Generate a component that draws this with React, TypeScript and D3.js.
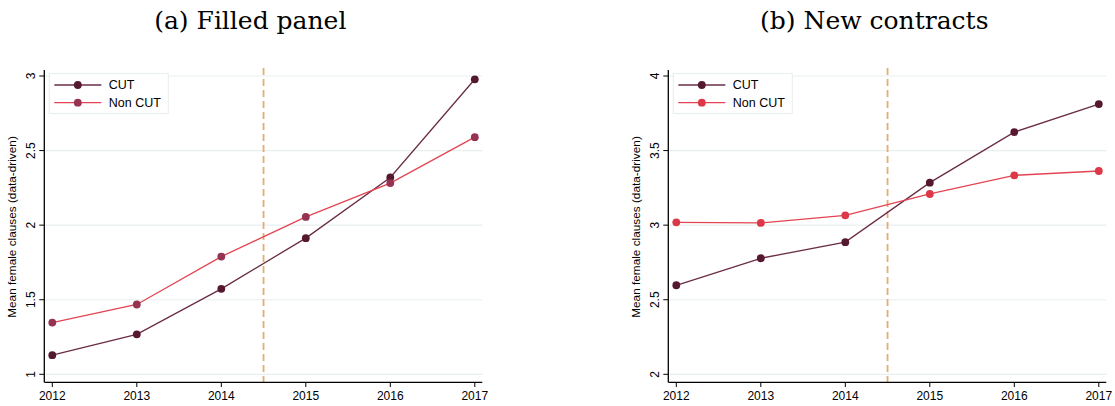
import React from "react";
import * as d3 from "d3";

const years = [2012, 2013, 2014, 2015, 2016, 2017];

const filledCut = [1.128, 1.268, 1.573, 1.913, 2.32, 2.978];
const filledNonCut = [1.347, 1.468, 1.789, 2.055, 2.282, 2.59];

const newCut = [2.597, 2.778, 2.886, 3.285, 3.624, 3.812];
const newNonCut = [3.019, 3.015, 3.066, 3.209, 3.334, 3.363];

const filledTicks = [1, 1.5, 2, 2.5, 3];
const newTicks = [2, 2.5, 3, 3.5, 4];

const seriesNames = ["CUT", "Non CUT"];
const cutoffYear = 2014.5;

interface PanelProps {
  title: string;
  left: number;
  cut: number[];
  nonCut: number[];
  ticks: number[];
  nonCutMarker: string;
}

const sans = "'Liberation Sans', Arimo, Arial, sans-serif";

function Panel({ title, left, cut, nonCut, ticks, nonCutMarker }: PanelProps) {
  const axisX = left;
  const axisRight = left + 438;
  const x = d3.scaleLinear().domain([2012, 2017]).range([left + 8, left + 430.5]);
  const y = d3
    .scaleLinear()
    .domain([ticks[0], ticks[ticks.length - 1]])
    .range([374.3, 76]);
  const line = d3
    .line<number>()
    .x((_, i) => x(years[i]))
    .y((v) => y(v));

  const cutLine = "#6a2c46";
  const cutMarker = "#55182f";
  const nonCutLine = "#e34452";

  const series = [
    { vals: cut, stroke: cutLine, fill: cutMarker },
    { vals: nonCut, stroke: nonCutLine, fill: nonCutMarker },
  ];

  const legX = left + 5;
  return (
    <g>
      <text
        x={left + 206}
        y={29}
        textAnchor="middle"
        fontFamily="'DejaVu Serif', 'Liberation Serif', serif"
        fontSize={25}
        fill="#000"
      >
        {title}
      </text>
      {ticks.map((t) => (
        <line key={"g" + t} x1={axisX} x2={axisRight} y1={y(t)} y2={y(t)} stroke="#e8efef" strokeWidth={1.2} />
      ))}
      <line
        x1={x(cutoffYear)}
        x2={x(cutoffYear)}
        y1={68}
        y2={382}
        stroke="#e2ad76"
        strokeWidth={1.8}
        strokeDasharray="7,4"
      />
      {series.map((s, k) => (
        <g key={"s" + k}>
          <path d={line(s.vals) || ""} fill="none" stroke={s.stroke} strokeWidth={1.3} />
          {s.vals.map((v, i) => (
            <circle key={i} cx={x(years[i])} cy={y(v)} r={3.9} fill={s.fill} />
          ))}
        </g>
      ))}
      {/* axes */}
      <line x1={axisX} x2={axisX} y1={70} y2={382.3} stroke="#000" strokeWidth={1.3} />
      <line x1={axisX} x2={axisRight} y1={382.3} y2={382.3} stroke="#000" strokeWidth={1.3} />
      {ticks.map((t) => (
        <g key={"t" + t}>
          <line x1={axisX - 5} x2={axisX} y1={y(t)} y2={y(t)} stroke="#000" strokeWidth={1} />
          <text
            transform={`translate(${axisX - 9},${y(t)}) rotate(-90)`}
            textAnchor="middle"
            fontFamily={sans}
            fontSize={12}
            fill="#000"
          >
            {String(t)}
          </text>
        </g>
      ))}
      {years.map((yr) => (
        <g key={"x" + yr}>
          <line x1={x(yr)} x2={x(yr)} y1={382.3} y2={387} stroke="#000" strokeWidth={1} />
          <text x={x(yr)} y={399.5} textAnchor="middle" fontFamily={sans} fontSize={12} fill="#000">
            {yr}
          </text>
        </g>
      ))}
      <text
        transform={`translate(${left - 28},227) rotate(-90)`}
        textAnchor="middle"
        fontFamily={sans}
        fontSize={11.8}
        fill="#000"
      >
        Mean female clauses (data-driven)
      </text>
      {/* legend */}
      <rect x={legX} y={73.5} width={119} height={40} fill="#fff" stroke="#e6eeee" strokeWidth={1} />
      {series.map((s, k) => {
        const ly = 85 + k * 17.7;
        return (
          <g key={"l" + k}>
            <line x1={legX + 5} x2={legX + 52} y1={ly} y2={ly} stroke={s.stroke} strokeWidth={1.3} />
            <circle cx={legX + 28.5} cy={ly} r={3.9} fill={s.fill} />
            <text x={legX + 59.5} y={ly + 4.3} fontFamily={sans} fontSize={12.5} fill="#000">
              {seriesNames[k]}
            </text>
          </g>
        );
      })}
    </g>
  );
}

export default function App() {
  return (
    <svg width={1115} height={406} style={{ position: "absolute", left: 0, top: 0, background: "#fff" }}>
      <rect width={1115} height={406} fill="#fff" />
      <Panel
        title="(a) Filled panel"
        left={44.3}
        cut={filledCut}
        nonCut={filledNonCut}
        ticks={filledTicks}
        nonCutMarker="#963352"
      />
      <Panel
        title="(b) New contracts"
        left={668.3}
        cut={newCut}
        nonCut={newNonCut}
        ticks={newTicks}
        nonCutMarker="#dc3848"
      />
    </svg>
  );
}
